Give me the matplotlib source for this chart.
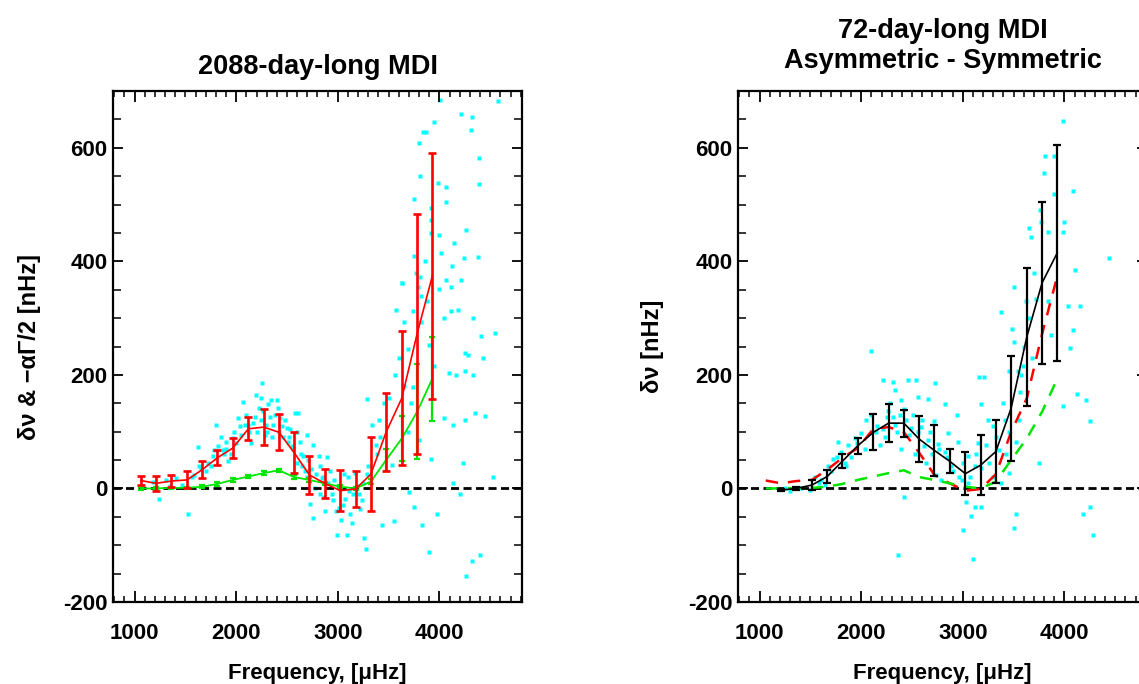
import matplotlib
matplotlib.use('Agg')
import matplotlib.pyplot as plt
from matplotlib.ticker import MultipleLocator

plt.rcParams['font.family'] = ['Liberation Sans', 'DejaVu Sans']
plt.rcParams['axes.unicode_minus'] = False

# ---------------- data ----------------
freq = [1060, 1210, 1360, 1515, 1665, 1815, 1965, 2120, 2270, 2420,
        2570, 2720, 2870, 3025, 3175, 3325, 3475, 3630, 3780, 3930]

red_val = [14, 9, 13, 15, 33, 54, 71, 105, 108, 99,
           63, 24, 9, -4, -1, 25, 99, 159, 272, 374]
red_err = [8, 13, 10, 15, 15, 13, 17, 20, 32, 32,
           36, 33, 26, 36, 32, 65, 69, 118, 211, 217]

green_val = [0, 0, 1, 1, 3, 8, 15, 21, 27, 32,
             20, 15, 9, 3, 0, 12, 50, 88, 135, 193]
green_err = [2, 2, 2, 2, 3, 3, 3, 3, 3, 3,
             3, 3, 3, 3, 3, 4, 20, 40, 84, 74]

black_freq = [1210, 1360, 1515, 1665, 1815, 1965, 2120, 2270, 2420, 2570,
              2720, 2870, 3025, 3175, 3325, 3475, 3630, 3780, 3930]
black_val = [-3, 0, 6, 21, 48, 75, 99, 115, 115, 87,
             67, 48, 26, 41, 65, 141, 267, 362, 415]
black_err = [2, 2, 9, 12, 12, 14, 32, 33, 24, 41,
             45, 21, 38, 53, 56, 92, 121, 142, 190]

cyanL_f = [4010, 4579, 4215, 4324, 3950, 4314, 3802, 3868, 3840, 4390, 3812, 4390, 3983, 4060,
           3752, 4060, 3917, 3917, 4257, 3917, 3993, 4142, 4017, 4241, 4380, 4126, 3752, 3808,
           4060, 3993, 3630, 4215, 4116, 3785, 3818, 4182, 4110, 4050, 4331, 4546, 4413, 4254,
           4281, 4430, 4099, 4165, 4248, 4331, 4347, 4446, 4132, 4248, 4043, 4529, 4132, 4198,
           3975, 3826, 3752, 3901, 4265, 4324, 4397, 4231,
           3570, 3636, 3653, 3686, 3736, 3686, 3703, 3736, 3769, 3818, 3901, 3950, 3917, 3802,
           3537, 3554, 3438, 3405, 3372, 3339, 3289, 3600, 3560, 3500, 3450, 3420, 3390, 3650,
           3720, 3880, 3860,
           1182, 1240, 1306, 1405, 1521, 1471, 1587, 1620, 1636, 1719, 1769, 1785, 1802, 1868,
           1901, 1917, 1967, 1983, 2017, 2066, 2083, 2116, 2165, 2198, 2225, 2255, 2264, 2297,
           2314, 2347, 2364, 2397, 2407, 2430, 2463, 2579, 2612, 2496, 2512, 2595, 2628, 2661,
           2694, 2760, 2810, 2826, 2893, 2843, 2727, 2760, 2826, 2959, 2992, 3091, 3074, 3124,
           3174, 3207, 3256, 3273, 3223, 1350, 1560, 1700, 1850, 1950, 2050, 2150, 2200, 2350,
           2450, 2550, 2650, 2700, 2900, 2950, 3000, 3050, 3100, 3150, 3250, 3300, 2870, 2780,
           1750, 1820, 1880, 2000, 2040, 2130, 2180, 2240, 2280, 2330, 2380, 2420, 2480, 2530,
           2560, 2640, 2680, 2740, 2790, 2860, 2920, 2980, 3030, 3060, 3140, 3190, 3240, 3290,
           2600, 2710, 2850, 2940, 3010, 3110, 1650, 1900, 2100, 2240, 2300, 2520]
cyanL_v = [685, 682, 659, 655, 645, 632, 609, 627, 627, 582, 550, 536, 538, 531,
           509, 504, 494, 473, 455, 450, 447, 433, 415, 405, 408, 391, 409, 373,
           367, 352, 361, 367, 355, 355, 339, 315, 313, 300, 300, 274, 269, 239,
           235, 230, 203, 200, 206, 200, 132, 127, 112, 121, 124, 20, 9, -9,
           -45, -64, -33, -112, -155, -127, -118, 45,
           315, 361, 294, 245, 179, 100, -6, 312, 379, 294, 252, 215, 52, 85,
           42, -58, -64, 121, 76, 112, 158, 230, 200, 160, 150, 90, 60, 180,
           150, 330, 400,
           12, -18, 15, 18, -45, 6, 24, 73, 39, 45, 58, 67, 112, 67,
           82, 48, 88, 100, 124, 152, 112, 112, 115, 164, 142, 185, 136, 112,
           148, 155, 112, 155, 142, 124, 91, 133, 133, 106, 82, 100, 82, 58,
           94, 76, 58, 39, 55, 18, -27, -52, -9, 15, -82, -82, -18, -45,
           27, -9, -88, -106, -36, 5, 20, 30, 90, 60, 95, 80, 100, 90,
           110, 75, 40, 20, 10, -20, 5, -30, 20, -10, 10, 40, -40, 0,
           40, 75, 60, 80, 110, 100, 125, 120, 95, 125, 130, 100, 120, 105,
           70, 60, 30, 35, 25, -15, 30, -40, -55, 25, -60, 5, -20, 25,
           45, 50, 20, -10, -35, -5, 35, 70, 130, 160, 100, 90]

cyanR_f = [3984, 3895, 3813, 3803, 4082, 3902, 3999, 3770, 3656, 3764, 3836, 3984, 3672, 4436,
           4108, 3508, 3623, 3721, 4033, 4157, 3377, 3836, 4082, 3869, 4059, 3508, 3459, 3541,
           3590, 3984, 4125, 4213, 4256, 3754, 3180, 3164, 3210, 2731, 2541, 2459, 2311, 2213,
           2328, 2092, 2938, 2820, 2721, 2557, 2656, 2393, 2262, 2377, 2492, 2590, 2754, 2820,
           2852, 2951, 3000, 3049, 3115, 3180, 3230, 3295, 3361, 3377, 3426, 3459, 3525, 2361,
           2420, 3000, 3098, 3082, 3115, 3180, 3508, 3525, 4180, 4256, 4285, 3033, 1770, 1803,
           1869, 2000, 1934, 2148, 2180, 2328, 2230, 2393, 1541, 1607, 1672, 1492, 1410, 1640,
           1721, 2525, 2656, 2640, 2738, 2787, 2100, 2050, 2280, 2420, 2600, 2680, 2880, 2960,
           3050, 3150, 3250, 3300, 3400, 3450, 3550, 3600, 3650, 3700, 3560, 3480, 1900, 1850,
           1250, 1300,
           1580, 1700, 1760, 1840, 1960, 2040, 2160, 2210, 2310, 2350, 2440, 2470, 2510, 2620,
           2700, 2770, 2840, 2900, 2990, 3070, 3130, 3260, 3330, 3420, 3570, 3680, 2250, 2560]
cyanR_v = [648, 586, 586, 555, 523, 518, 470, 470, 458, 491, 452, 452, 442, 405,
           385, 355, 330, 333, 321, 321, 311, 330, 279, 270, 248, 258, 206, 206,
           215, 145, 167, 155, 118, 45, 148, 197, 197, 185, 191, 191, 188, 191,
           173, 242, 130, 148, 118, 161, 158, 155, 136, 130, 106, 109, 79, 64,
           97, 82, 45, 58, 39, 36, 76, 21, 67, 9, 61, 27, 82, -118,
           -15, -73, -124, -48, -33, -33, -70, -45, -45, -33, -82, -24, 82, 64,
           76, 97, 88, 100, 76, 112, 91, 70, 21, 15, 39, -3, 0, 6,
           52, 61, 85, 45, 24, 15, 130, 120, 150, 140, 120, 100, 40, 20,
           10, 80, 120, 110, 150, 100, 120, 250, 300, 380, 170, 280, 55, 40,
           0, -5,
           10, 30, 55, 45, 80, 70, 110, 105, 125, 100, 120, 95, 130, 75,
           60, 70, 55, 30, 15, 20, 60, 45, 90, 120, 200, 230, 125, 100]

RED = '#ff0000'
GREEN = '#00e600'
CYAN = '#00ffff'

fig = plt.figure(figsize=(11.39, 6.84), dpi=100)
W, H = 1139.0, 684.0
bot = 1 - 602 / H
hgt = 511 / H
wid = 408.4 / W
axL = fig.add_axes([113.3 / W, bot, wid, hgt])
axR = fig.add_axes([738.3 / W, bot, wid, hgt])

FS = 16


def style(ax):
    ax.set_xlim(790, 4810)
    ax.set_ylim(-200, 700)
    ax.xaxis.set_major_locator(MultipleLocator(1000))
    ax.xaxis.set_minor_locator(MultipleLocator(100))
    ax.yaxis.set_major_locator(MultipleLocator(200))
    ax.yaxis.set_minor_locator(MultipleLocator(50))
    ax.tick_params(axis='x', which='major', direction='in', top=True, bottom=True,
                   length=8, width=1.3, pad=15, labelsize=FS)
    ax.tick_params(axis='x', which='minor', direction='in', top=True, bottom=True,
                   length=4, width=1.1)
    ax.tick_params(axis='y', which='major', direction='in', left=True, right=True,
                   length=7, width=1.3, pad=4, labelsize=FS)
    ax.tick_params(axis='y', which='minor', direction='in', left=True, right=True,
                   length=6, width=1.1)
    for lab in ax.get_xticklabels() + ax.get_yticklabels():
        lab.set_fontweight('bold')
    for sp in ax.spines.values():
        sp.set_linewidth(1.6)
    ax.set_xlabel('Frequency, [\u03bcHz]', fontsize=FS, fontweight='bold', va='center')
    ax.xaxis.set_label_coords(0.5, -0.139)


for ax, cf, cv in ((axL, cyanL_f, cyanL_v), (axR, cyanR_f, cyanR_v)):
    ax.plot(cf, cv, 's', ms=2.2, color=CYAN, mec='none', zorder=1)
    ax.axhline(0, color='black', lw=2, dashes=(2.9, 1.6), zorder=2)
    style(ax)

# left panel
axL.errorbar(freq, green_val, yerr=green_err, color=GREEN, lw=1.3,
             elinewidth=1.6, capsize=2.5, capthick=1.6, zorder=3)
axL.errorbar(freq, red_val, yerr=red_err, color=RED, lw=1.2,
             elinewidth=1.9, capsize=2.6, capthick=1.9, zorder=4)
axL.set_ylabel('\u03b4\u03bd & \u2212\u03b1\u0393/2 [nHz]', fontsize=FS + 1,
               fontweight='bold', va='center')
axL.yaxis.set_label_coords(-0.204, 0.5)

# right panel
axR.plot(freq, red_val, color=RED, lw=1.8, dashes=(5, 4), zorder=3)
axR.plot(freq, green_val, color=GREEN, lw=1.8, dashes=(5, 4), zorder=3)
axR.errorbar(black_freq, black_val, yerr=black_err, color='black', lw=1.2,
             elinewidth=1.6, capsize=2.6, capthick=1.6, zorder=4)
axR.set_ylabel('\u03b4\u03bd [nHz]', fontsize=FS + 1, fontweight='bold', va='center')
axR.yaxis.set_label_coords(-0.211, 0.5)

# titles
cxL = (113.3 + 408.4 / 2) / W
cxR = (738.3 + 408.4 / 2) / W
fig.text(cxL, 1 - 67 / H, '2088-day-long MDI', fontsize=19.5, fontweight='bold',
         ha='center', va='center')
fig.text(cxR, 1 - 31 / H, '72-day-long MDI', fontsize=19.5, fontweight='bold',
         ha='center', va='center')
fig.text(cxR, 1 - 61 / H, 'Asymmetric - Symmetric', fontsize=19.5, fontweight='bold',
         ha='center', va='center')

fig.savefig('out.png', dpi=100)
